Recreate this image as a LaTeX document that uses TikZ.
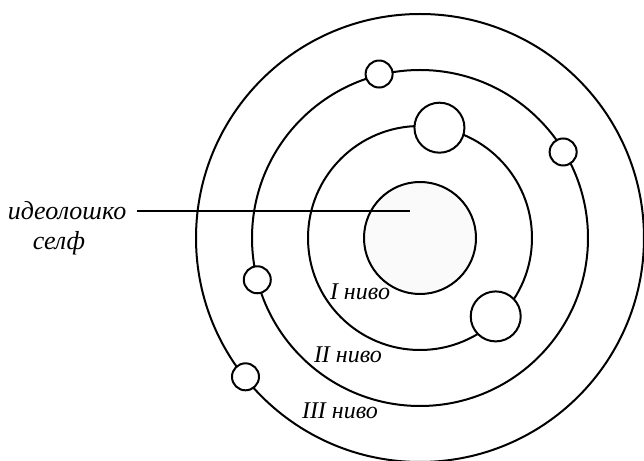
\documentclass[tikz,border=0pt]{standalone}
\usepackage{fontspec}
\setmainfont{Liberation Serif}
\usetikzlibrary{positioning}
\definecolor{coreC}{RGB}{250,250,250}
\newcommand{\RU}{56}
\newcommand{\SmD}{13.5pt}
\newcommand{\BgD}{25pt}

\begin{document}
\begin{tikzpicture}[x=0.5pt, y=0.5pt,
    ring/.style={draw=black, line width=1pt},
    sat/.style={circle, draw=black, fill=white, line width=1pt, inner sep=0pt},
    tag/.style={font=\fontsize{13}{15}\selectfont\itshape, inner sep=1pt},
    lvl/.style={font=\fontsize{12}{14}\selectfont\itshape, inner sep=1pt},
    lead/.style={draw=black, line width=0.8pt},
  ]
  \useasboundingbox (0,0) rectangle (644,461);
  \coordinate (ctr) at (420,223);

  %% ================= the four rings =================
  \draw[ring, fill=coreC] (ctr) circle[radius=\RU];
  \foreach \k in {2,3,4} {
    \draw[ring] (ctr) circle[radius={\k*\RU}];
  }

  %% ================= the bodies riding on the rings =================
  \node[sat, minimum size=\BgD] (bigA) at ([shift={(80:112)}]ctr) {};
  \node[sat, minimum size=\BgD] (bigB) at ([shift={(-46:109)}]ctr) {};
  \node[sat, minimum size=\SmD] (smA) at ([shift={(104:169)}]ctr) {};
  \node[sat, minimum size=\SmD] (smB) at ([shift={(31:167)}]ctr) {};
  \node[sat, minimum size=\SmD] (smC) at ([shift={(194.4:168)}]ctr) {};
  \node[sat, minimum size=\SmD] (smD) at ([shift={(218.5:223)}]ctr) {};

  %% ================= labels =================
  \node[tag] (ideo) at (67,250) {идеолошко};
  \node[tag, below=3pt of ideo.south, anchor=north, xshift=-4pt] (self) {селф};
  \coordinate (corePt) at (410,250);
  \draw[lead] ([xshift=4pt]ideo.east) -- (ideo.east -| corePt);

  \node[lvl] (lvlA) at (360,169) {I ниво};
  \node[lvl] (lvlB) at (348,106) {II ниво};
  \node[lvl] (lvlC) at (340,50)  {III ниво};

\end{tikzpicture}
\end{document}
